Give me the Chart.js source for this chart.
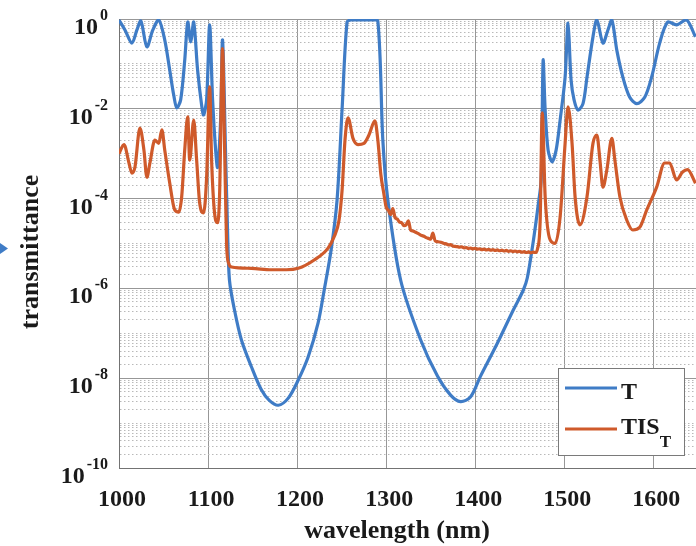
<!DOCTYPE html>
<html>
<head>
<meta charset="utf-8">
<script src="https://cdn.jsdelivr.net/npm/chart.js@4.4.1/dist/chart.umd.min.js"></script>
<style>
  html, body { margin: 0; padding: 0; background: #ffffff; overflow: hidden; }
  canvas { display: block; }
</style>
</head>
<body>
<canvas id="chart" width="696" height="546"></canvas>
<script>
// Transmission spectrum T of the filter stack (wavelength in nm)
const tWavelength = [
  1000, 1006.7, 1014.5, 1020.1, 1024.6, 1031.3, 1038.0, 1044.7, 1051.4, 1057.0,
  1061.5, 1064.9, 1069.3, 1073.8, 1077.2, 1080.5, 1083.9, 1088.3, 1092.8, 1095.0,
  1098.4, 1101.8, 1105.1, 1108.5, 1110.7, 1114.1, 1116.3, 1119.6, 1121.9, 1124.1,
  1129.7, 1137.5, 1148.7, 1159.9, 1168.8, 1178.9, 1190.1, 1201.3, 1212.5, 1223.6,
  1230.4, 1238.2, 1244.9, 1250.5, 1256.1, 1260.5, 1271.7, 1282.9, 1290.7, 1296.3,
  1301.9, 1316.4, 1338.8, 1357.8, 1372.4, 1383.5, 1394.7, 1405.9, 1424.9, 1442.8,
  1454.0, 1458.5, 1465.2, 1470.8, 1474.1, 1476.3, 1478.6, 1481.9, 1486.4, 1490.9,
  1495.4, 1501.0, 1504.3, 1507.7, 1511.0, 1515.5, 1521.1, 1525.6, 1532.3, 1536.7,
  1543.5, 1549.1, 1553.5, 1559.1, 1565.8, 1573.6, 1581.5, 1590.4, 1598.2, 1607.2,
  1616.1, 1626.2, 1637.4, 1647.4
];
const tValues = [
  0.95, 0.57, 0.29, 0.57, 0.90, 0.24, 0.57, 0.95, 0.34, 0.072,
  0.020, 0.0105, 0.016, 0.12, 0.85, 0.31, 0.85, 0.072, 0.012, 0.0073,
  0.016, 0.74, 0.016, 0.0012, 5.0e-4, 0.0056, 0.34, 1.2e-3, 2.0e-5, 1.5e-6,
  3.3e-7, 7.1e-8, 1.8e-8, 5.5e-9, 3.2e-9, 2.5e-9, 3.6e-9, 9.1e-9, 3.0e-8, 1.7e-7,
  9.1e-7, 7.2e-6, 9.3e-5, 9.4e-3, 0.85, 0.95, 0.95, 0.95, 0.90, 2.0e-3,
  9.3e-5, 1.5e-6, 7.1e-8, 1.1e-8, 4.2e-9, 3.0e-9, 3.8e-9, 1.1e-8, 6.0e-8, 3.3e-7,
  9.1e-7, 1.7e-6, 1.1e-5, 7.2e-5, 2.6e-4, 0.12, 9.4e-3, 1.2e-3, 6.6e-4, 1.2e-3,
  5.6e-3, 0.051, 0.81, 0.044, 0.016, 9.4e-3, 0.013, 0.051, 0.40, 0.95,
  0.29, 0.57, 0.95, 0.20, 0.051, 0.018, 0.013, 0.018, 0.051, 0.29,
  0.85, 0.74, 0.95, 0.40
];

// Integrated-scatter transmittance TIS_T (wavelength in nm)
const tisWavelength = [
  1000, 1005.6, 1011.2, 1014.5, 1017.9, 1023.5, 1028.0, 1031.3, 1034.7, 1040.3,
  1044.7, 1048.1, 1051.4, 1057.0, 1062.6, 1067.1, 1070.4, 1073.8, 1077.2, 1079.4,
  1083.9, 1087.2, 1090.6, 1095.0, 1098.4, 1101.8, 1104.0, 1107.3, 1110.7, 1112.9,
  1116.3, 1118.5, 1120.8, 1123.0, 1126.4, 1148.7, 1171.1, 1187.9, 1201.3, 1219.2,
  1234.8, 1241.5, 1247.1, 1250.5, 1253.8, 1257.2, 1262.8, 1268.4, 1275.1, 1280.7,
  1287.4, 1290.7, 1294.1, 1297.4, 1300.0,
  1302.5, 1305.0, 1307.5, 1310.0, 1312.5, 1315.0, 1317.5, 1320.0, 1322.5, 1325.0,
  1327.5, 1330.0, 1332.5, 1335.0, 1337.5, 1340.0, 1342.5, 1345.0, 1347.5, 1350.0,
  1352.5, 1355.0, 1357.5, 1360.0, 1362.5, 1365.0, 1367.5, 1370.0, 1372.5, 1375.0,
  1377.5, 1380.0, 1382.5, 1385.0, 1387.5, 1390.0, 1392.5, 1395.0, 1397.5, 1400.0,
  1402.5, 1405.0, 1407.5, 1410.0, 1412.5, 1415.0, 1417.5, 1420.0, 1422.5, 1425.0,
  1427.5, 1430.0, 1432.5, 1435.0, 1437.5, 1440.0, 1442.5, 1445.0, 1447.5, 1450.0,
  1452.5, 1455.0, 1457.5, 1460.0, 1462.5, 1465.0, 1467.5, 1470.0,
  1473.0, 1475.3, 1478.6, 1484.2, 1489.8, 1495.4, 1501.0, 1504.3, 1508.8, 1512.2,
  1517.7, 1525.6, 1532.3, 1536.7, 1540.1, 1543.5, 1547.9, 1553.5, 1556.9, 1562.5,
  1570.3, 1577.0, 1584.8, 1592.7, 1603.8, 1612.8, 1618.4, 1626.2, 1632.9, 1638.5,
  1647.4
];
const tisValues = [
  1.0e-3, 1.6e-3, 6.2e-4, 3.7e-4, 5.0e-4, 3.7e-3, 1.2e-3, 3.0e-4, 6.2e-4, 2.0e-3,
  1.7e-3, 3.4e-3, 1.2e-3, 2.2e-4, 5.6e-5, 5.0e-5, 1.1e-4, 1.2e-3, 6.6e-3, 7.2e-4,
  5.6e-3, 7.2e-4, 8.0e-5, 4.8e-5, 3.0e-4, 0.031, 7.2e-4, 4.8e-5, 2.9e-5, 1.1e-4,
  0.22, 1.7e-3, 1.0e-5, 3.7e-6, 3.0e-6, 2.8e-6, 2.6e-6, 2.6e-6, 2.8e-6, 4.3e-6,
  7.9e-6, 1.4e-5, 3.3e-5, 1.5e-4, 2.0e-3, 6.3e-3, 2.2e-3, 1.6e-3, 1.7e-3, 2.6e-3,
  5.4e-3, 2.0e-3, 3.4e-4, 1.3e-4, 6.5e-5,
  5.5e-5, 4.4e-5, 6.0e-5, 3.8e-5, 3.5e-5, 3.0e-5, 2.9e-5, 2.5e-5, 2.6e-5, 3.2e-5,
  2.0e-5, 1.9e-5, 1.8e-5, 1.7e-5, 1.6e-5, 1.5e-5, 1.45e-5, 1.35e-5, 1.3e-5, 1.25e-5,
  1.7e-5, 1.15e-5, 1.1e-5, 1.08e-5, 1.05e-5, 1.0e-5, 9.8e-6, 9.3e-6, 9.4e-6, 8.8e-6,
  8.6e-6, 8.5e-6, 8.3e-6, 8.4e-6, 8.0e-6, 8.1e-6, 7.8e-6, 7.9e-6, 7.6e-6, 7.8e-6,
  7.5e-6, 7.6e-6, 7.3e-6, 7.5e-6, 7.2e-6, 7.4e-6, 7.1e-6, 7.3e-6, 7.0e-6, 7.2e-6,
  6.9e-6, 7.1e-6, 6.8e-6, 7.0e-6, 6.7e-6, 6.9e-6, 6.6e-6, 6.8e-6, 6.5e-6, 6.7e-6,
  6.4e-6, 6.6e-6, 6.3e-6, 6.5e-6, 6.2e-6, 6.4e-6, 6.3e-6, 7.6e-6,
  3.3e-5, 8.1e-3, 1.1e-4, 1.2e-5, 1.0e-5, 3.9e-5, 1.7e-3, 0.011, 1.7e-3, 1.1e-4,
  2.6e-5, 1.1e-4, 1.7e-3, 2.6e-3, 7.2e-4, 1.8e-4, 4.4e-4, 2.2e-3, 7.2e-4, 1.1e-4,
  3.3e-5, 2.0e-5, 2.3e-5, 5.6e-5, 1.8e-4, 6.2e-4, 6.2e-4, 2.6e-4, 3.9e-4, 4.4e-4,
  2.2e-4
];

// Axis ticks
const xTicks = [1000, 1100, 1200, 1300, 1400, 1500, 1600];
const yLabelExponents = [0, -2, -4, -6, -8, -10];

const BLUE = '#3f7cc6';
const ORANGE = '#cf5a2b';
const SERIF = '"Liberation Serif", "Times New Roman", serif';

function isLabelledDecade(v) {
  const l = Math.log10(v);
  const r = Math.round(l);
  return Math.abs(l - r) < 1e-9 && r % 2 === 0;
}

// Every 1..9 x 10^k value for the log grid
function logGridValues() {
  const vals = [];
  for (let k = -10; k <= 0; k++) {
    for (let m = 1; m <= 9; m++) {
      vals.push(k === 0 ? 1 : m * Math.pow(10, k));
      if (k === 0) break;
    }
  }
  return vals;
}

// Text, legend and marker drawn on top of the chart
const annotations = {
  id: 'annotations',
  afterDatasetsDraw(chart) {
    const { ctx, scales: { x, y } } = chart;
    ctx.save();
    ctx.fillStyle = '#1a1a1a';

    // y tick labels: 10 with a superscript exponent
    const labelRight = 108;
    yLabelExponents.forEach(e => {
      const py = y.getPixelForValue(Math.pow(10, e));
      const sup = String(e);
      ctx.font = 'bold 16px ' + SERIF;
      ctx.textAlign = 'right';
      ctx.textBaseline = 'alphabetic';
      const supW = ctx.measureText(sup).width;
      ctx.fillText(sup, labelRight, py + 1);
      ctx.font = 'bold 24px ' + SERIF;
      ctx.fillText('10', labelRight - supW - 2, py + 15);
    });

    // x tick labels
    ctx.font = 'bold 24px ' + SERIF;
    ctx.textAlign = 'center';
    xTicks.forEach(v => {
      ctx.fillText(String(v), x.getPixelForValue(v) + 3, 506);
    });

    // axis titles
    ctx.font = 'bold 26px ' + SERIF;
    ctx.fillText('wavelength (nm)', 397, 538);
    ctx.save();
    ctx.translate(31, 252);
    ctx.rotate(-Math.PI / 2);
    ctx.textBaseline = 'middle';
    ctx.fillText('transmittance', 0, 0);
    ctx.restore();

    // legend
    const lx = 558, ly = 368, lw = 126, lh = 87;
    ctx.fillStyle = '#ffffff';
    ctx.fillRect(lx, ly, lw, lh);
    ctx.strokeStyle = '#7a7a7a';
    ctx.lineWidth = 1;
    ctx.strokeRect(lx + 0.5, ly + 0.5, lw, lh);
    ctx.lineWidth = 3;
    ctx.strokeStyle = BLUE;
    ctx.beginPath(); ctx.moveTo(565, 388); ctx.lineTo(617, 388); ctx.stroke();
    ctx.strokeStyle = ORANGE;
    ctx.beginPath(); ctx.moveTo(565, 429); ctx.lineTo(617, 429); ctx.stroke();
    ctx.fillStyle = '#1a1a1a';
    ctx.textAlign = 'left';
    ctx.textBaseline = 'alphabetic';
    ctx.font = 'bold 24px ' + SERIF;
    ctx.fillText('T', 621, 399);
    ctx.fillText('TIS', 621, 434);
    const tisW = ctx.measureText('TIS').width;
    ctx.font = 'bold 17px ' + SERIF;
    ctx.fillText('T', 621 + tisW, 447);

    // small marker at the left edge
    ctx.fillStyle = BLUE;
    ctx.beginPath();
    ctx.moveTo(0, 243); ctx.lineTo(8, 248.5); ctx.lineTo(0, 254); ctx.closePath();
    ctx.fill();
    ctx.restore();
  }
};

const toPoints = (xs, ys) => xs.map((w, i) => ({ x: w, y: ys[i] }));

new Chart(document.getElementById('chart'), {
  type: 'line',
  data: {
    datasets: [
      {
        label: 'T',
        data: toPoints(tWavelength, tValues),
        borderColor: BLUE,
        borderWidth: 3.2,
        pointRadius: 0,
        tension: 0.3,
        order: 2
      },
      {
        label: 'TIS_T',
        data: toPoints(tisWavelength, tisValues),
        borderColor: ORANGE,
        borderWidth: 3.2,
        pointRadius: 0,
        cubicInterpolationMode: 'monotone',
        order: 1
      }
    ]
  },
  options: {
    responsive: false,
    animation: false,
    events: [],
    layout: { padding: { left: 119, top: 19, right: 0, bottom: 78 } },
    plugins: { legend: { display: false }, tooltip: { enabled: false } },
    scales: {
      x: {
        type: 'linear',
        min: 1000,
        max: 1648,
        afterBuildTicks: s => { s.ticks = xTicks.map(v => ({ value: v })); },
        ticks: { display: false },
        grid: { color: '#979797', lineWidth: 1, drawTicks: false },
        border: { display: true, color: '#737373', width: 1 }
      },
      y: {
        type: 'logarithmic',
        min: 1e-10,
        max: 1,
        afterBuildTicks: s => { s.ticks = logGridValues().map(v => ({ value: v })); },
        ticks: { display: false },
        grid: {
          drawTicks: false,
          lineWidth: 1,
          color: c => (c.tick && isLabelledDecade(c.tick.value)) ? '#979797' : '#b9b9b9'
        },
        border: {
          display: true,
          color: '#737373',
          width: 1,
          dash: c => (c.tick && !isLabelledDecade(c.tick.value)) ? [1.5, 2.5] : []
        }
      }
    }
  },
  plugins: [annotations]
});
</script>
</body>
</html>
